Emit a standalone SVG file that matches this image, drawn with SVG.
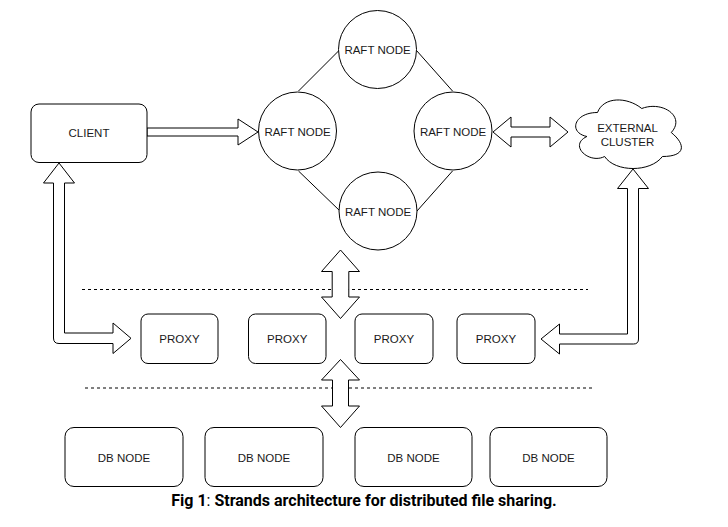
<svg xmlns="http://www.w3.org/2000/svg" width="728" height="527" viewBox="0 0 728 527">
<style>
.box{fill:#fff;stroke:#000;stroke-width:1}
.lbl{font-family:"Liberation Sans",Arial,sans-serif;font-size:11.5px;fill:#1a1a1a;text-anchor:middle}
.arr{fill:#fff;stroke:#000;stroke-width:1;stroke-linejoin:miter}
.link{stroke:#000;stroke-width:1;fill:none}
.dash{stroke:#000;stroke-width:1;stroke-dasharray:3 3;fill:none}
.cap{font-family:Roboto,"Liberation Sans",sans-serif;font-size:16px;font-weight:bold;fill:#000;text-anchor:middle}
</style>
<rect width="728" height="527" fill="#fff"/>
<g id="separators">
<line class="dash" x1="82" y1="289.5" x2="588" y2="289.5"/>
<line class="dash" x1="85" y1="388" x2="595" y2="388"/>
</g>
<g id="connectors">
<line class="link" x1="298.5" y1="91" x2="339" y2="50.5"/>
<line class="link" x1="416.5" y1="50.5" x2="452.5" y2="91"/>
<line class="link" x1="298.5" y1="171" x2="340" y2="211"/>
<line class="link" x1="417" y1="211" x2="452.5" y2="171"/>
<path class="arr" d="M147,128 L238,128 L238,119 L258,132 L238,145 L238,136 L147,136 Z"/>
<path class="arr" d="M493,132 L511,117 L511,127 L550,127 L550,117 L568,132 L550,147 L550,137 L511,137 L511,147 Z"/>
<path class="arr" d="M59,163 L74.5,183 L64.5,183 L64.5,333 L113,333 L113,323 L131,338.3 L113,353.5 L113,343.5 L59,343.5 Q53.5,343.5 53.5,338 L53.5,183 L43.5,183 Z"/>
<path class="arr" d="M633,169 L648.5,188.5 L638.5,188.5 L638.5,339 Q638.5,344 633.5,344 L559.5,344 L559.5,354 L541,339 L559.5,324 L559.5,334 L627.5,334 L627.5,188.5 L617.5,188.5 Z"/>
<path class="arr" d="M340.5,250 L359.5,271.5 L348.8,271.5 L348.8,297 L359.5,297 L340.5,318.5 L321.5,297 L332.2,297 L332.2,271.5 L321.5,271.5 Z"/>
<path class="arr" d="M340.5,359.5 L359.5,380 L348.5,380 L348.5,406 L359.5,406 L340.5,427.5 L321.5,406 L332.5,406 L332.5,380 L321.5,380 Z"/>
</g>
<g id="client">
<rect class="box" x="31" y="104" width="116" height="58.5" rx="8"/>
<text class="lbl" x="89" y="136.5">CLIENT</text>
</g>
<g id="raft-top">
<circle class="box" cx="377.5" cy="49.5" r="39"/>
<text class="lbl" x="377.5" y="54">RAFT NODE</text>
</g>
<g id="raft-left">
<circle class="box" cx="297.5" cy="131" r="39"/>
<text class="lbl" x="297.5" y="135.5">RAFT NODE</text>
</g>
<g id="raft-right">
<circle class="box" cx="453" cy="131" r="39"/>
<text class="lbl" x="453" y="135.5">RAFT NODE</text>
</g>
<g id="raft-bottom">
<circle class="box" cx="378" cy="211" r="39"/>
<text class="lbl" x="378" y="215.5">RAFT NODE</text>
</g>
<g id="external-cluster">
<path class="box" d="M597.5,112.5 C573.9,112.5 568,132.5 586.9,136.5 C568,145.3 589.2,164.5 604.6,156.5 C615.2,172.5 650.6,172.5 662.4,156.5 C686,156.5 686,144.5 671.25,132.5 C686,116.5 662.4,100.5 641.75,108.5 C627,96.5 603.4,96.5 597.5,112.5 Z"/>
<text class="lbl" x="627.5" y="131.5">EXTERNAL</text>
<text class="lbl" x="627.5" y="145.5">CLUSTER</text>
</g>
<g id="proxy-1">
<rect class="box" x="141" y="314" width="77" height="49.5" rx="7"/>
<text class="lbl" x="179.5" y="343">PROXY</text>
</g>
<g id="proxy-2">
<rect class="box" x="248.5" y="314" width="77.5" height="49.5" rx="7"/>
<text class="lbl" x="287.2" y="343">PROXY</text>
</g>
<g id="proxy-3">
<rect class="box" x="355" y="314" width="78" height="49.5" rx="7"/>
<text class="lbl" x="394" y="343">PROXY</text>
</g>
<g id="proxy-4">
<rect class="box" x="457" y="314" width="78" height="49.5" rx="7"/>
<text class="lbl" x="496" y="343">PROXY</text>
</g>
<g id="db-1">
<rect class="box" x="65" y="427.5" width="118" height="59" rx="9"/>
<text class="lbl" x="124" y="462">DB NODE</text>
</g>
<g id="db-2">
<rect class="box" x="205" y="427.5" width="118" height="59" rx="9"/>
<text class="lbl" x="264" y="462">DB NODE</text>
</g>
<g id="db-3">
<rect class="box" x="355" y="427.5" width="117" height="59" rx="9"/>
<text class="lbl" x="413.5" y="462">DB NODE</text>
</g>
<g id="db-4">
<rect class="box" x="490" y="427.5" width="117" height="59" rx="9"/>
<text class="lbl" x="548.5" y="462">DB NODE</text>
</g>
<g id="caption">
<text class="cap" x="364" y="506">Fig 1<tspan font-weight="normal">:</tspan> Strands architecture for distributed file sharing.</text>
</g>
</svg>
